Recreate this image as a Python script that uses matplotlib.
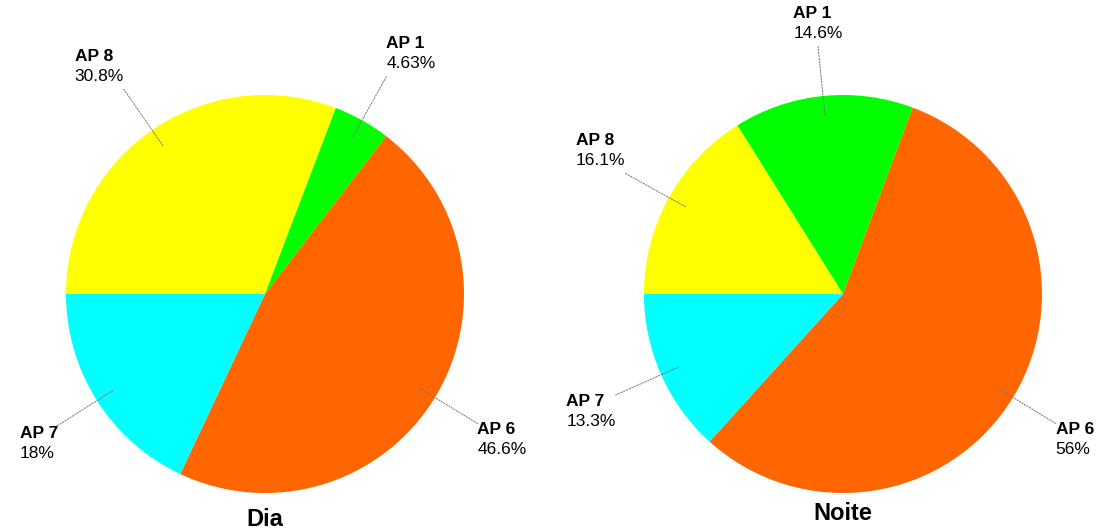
import numpy as np
import matplotlib.pyplot as plt

plt.rcParams['font.family'] = ['Liberation Sans', 'DejaVu Sans']

# data
labels = ["AP 8", "AP 1", "AP 6", "AP 7"]
colors = ["#FFFF00", "#00FF00", "#FF6600", "#00FFFF"]
dia = [30.8, 4.63, 46.6, 18]
noite = [16.1, 14.6, 56, 13.3]
dia_txt = ["30.8%", "4.63%", "46.6%", "18%"]
noite_txt = ["16.1%", "14.6%", "56%", "13.3%"]

W, H = 1108, 532
fig = plt.figure(figsize=(W / 100, H / 100), dpi=100)
renderer = fig.canvas.get_renderer()
FS = 12.5
PITCH = 20  # px between the two label lines


def draw(cx, title, title_y, vals, txts):
    r = 199
    ax = fig.add_axes([(cx - r) / W, (H - 294 - r) / H, 2 * r / W, 2 * r / H])
    wedges, _ = ax.pie(vals, colors=colors, startangle=180, counterclock=False,
                       radius=1, wedgeprops=dict(linewidth=0))
    ax.set_xlim(-1, 1)
    ax.set_ylim(-1, 1)
    ax.set_aspect('equal')
    ax.axis('off')
    for w, name, pct in zip(wedges, labels, txts):
        ang = np.deg2rad((w.theta1 + w.theta2) / 2)
        c, s = np.cos(ang), np.sin(ang)
        p0 = (0.9 * c, 0.9 * s)
        p1 = (1.25 * c, 1.25 * s)
        ax.annotate("", xy=p0, xytext=p1, annotation_clip=False,
                    arrowprops=dict(arrowstyle="-", color="#777777", lw=0.7,
                                    linestyle=(0, (1.5, 1.5)), shrinkA=0, shrinkB=0))
        ha = 'left' if c > 0.3 else ('right' if c < -0.3 else 'center')
        # percentage line first, then the bold name left-aligned above it
        if s > 0:
            y_pct, y_name = 4, 4 + PITCH * 0.72
            va = 'bottom'
        else:
            y_name, y_pct = 1, 1 - PITCH * 0.72
            va = 'top'
        t = ax.annotate(pct, xy=p1, xytext=(0, y_pct), textcoords='offset points',
                        ha=ha, va=va, fontsize=FS, annotation_clip=False)
        ext = t.get_window_extent(renderer)
        x_left = ax.transData.inverted().transform((ext.x0, 0))[0]
        ax.annotate(name, xy=(x_left, p1[1]), xytext=(0, y_name),
                    textcoords='offset points', ha='left', va=va, fontsize=FS,
                    fontweight='bold', annotation_clip=False)
    fig.text(cx / W, 1 - title_y / H, title, ha='center', va='center',
             fontsize=17, fontweight='bold')


draw(265, "Dia", 520, dia, dia_txt)
draw(843, "Noite", 514, noite, noite_txt)

fig.savefig("out.png", dpi=100, facecolor="white")
